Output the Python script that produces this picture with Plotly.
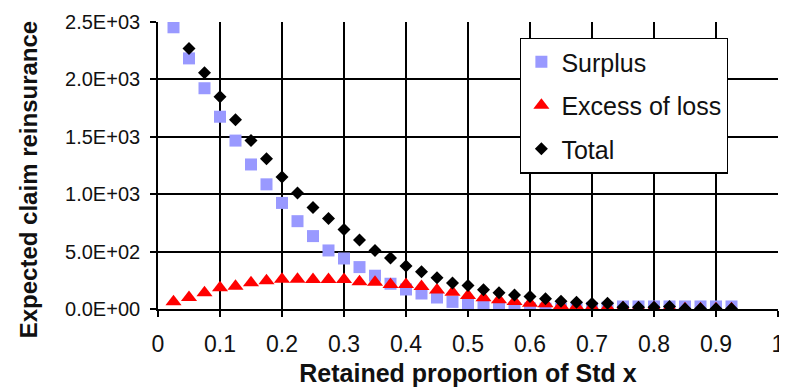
import plotly.graph_objects as go

retained = [0.025, 0.05, 0.075, 0.1, 0.125, 0.15, 0.175, 0.2, 0.225, 0.25,
            0.275, 0.3, 0.325, 0.35, 0.375, 0.4, 0.425, 0.45, 0.475, 0.5,
            0.525, 0.55, 0.575, 0.6, 0.625, 0.65, 0.675, 0.7, 0.725, 0.75,
            0.775, 0.8, 0.825, 0.85, 0.875, 0.9, 0.925]

surplus = [2454, 2183, 1923, 1675, 1467, 1259, 1086, 924, 765, 635,
           510, 440, 365, 290, 220, 170, 135, 100, 62, 45,
           30, 18, 10, 5, 3, 2, 8, 10, 12, 22,
           22, 22, 22, 22, 22, 22, 22]

excess_of_loss = [63, 101, 141, 185, 199, 228, 245, 260, 260, 258,
                  258, 258, 237, 234, 214, 214, 197, 165, 145, 117,
                  97, 80, 65, 50, 45, 30, 22, 16, 14, 10,
                  10, 10, 10, 2, 2, 2, 2]

total = [None, 2270, 2058, 1848, 1649, 1467, 1308, 1149, 1010, 884,
         788, 693, 600, 510, 445, 375, 325, 272, 226, 204,
         167, 141, 123, 109, 89, 68, 59, 48, 50, 16,
         16, 16, 22, 3, 3, 3, 3]

y_tick_values = [0, 500, 1000, 1500, 2000, 2500]
y_tick_labels = ["0.0E+00", "5.0E+02", "1.0E+03", "1.5E+03", "2.0E+03", "2.5E+03"]
x_tick_values = [0, 0.1, 0.2, 0.3, 0.4, 0.5, 0.6, 0.7, 0.8, 0.9, 1]
x_tick_labels = ["0", "0.1", "0.2", "0.3", "0.4", "0.5", "0.6", "0.7", "0.8", "0.9", "1"]

FONT = "Liberation Sans, Arial, sans-serif"

fig = go.Figure()
fig.add_trace(go.Scatter(x=retained, y=surplus, mode="markers", name="Surplus",
                         legendgroup="a",
                         marker=dict(symbol="square", size=12, color="#9999FF")))
fig.add_trace(go.Scatter(x=retained, y=excess_of_loss, mode="markers", name="Excess of loss",
                         legendgroup="b",
                         marker=dict(symbol="triangle-up", size=14, color="#FF0000")))
fig.add_trace(go.Scatter(x=retained, y=total, mode="markers", name="Total",
                         legendgroup="c",
                         marker=dict(symbol="diamond", size=10, color="#000000")))

# page body has an 8px margin, so the figure is offset by 8px; compensate
fig.update_layout(
    width=779, height=383,
    margin=dict(l=150, r=3, t=13, b=82),
    paper_bgcolor="white", plot_bgcolor="white",
    font=dict(family=FONT, color="#111111"),
    showlegend=True,
    legend=dict(x=0.584, y=0.945, xanchor="left", yanchor="top",
                bgcolor="white", bordercolor="black", borderwidth=1.3,
                font=dict(family=FONT, size=25, color="#111111"),
                tracegroupgap=8, traceorder="grouped", itemwidth=30),
    xaxis=dict(range=[0, 1], tickvals=x_tick_values, ticktext=x_tick_labels,
               showgrid=True, gridcolor="black", gridwidth=1.7,
               showline=True, linecolor="black", linewidth=1.7,
               zeroline=False, ticks="outside", ticklen=6, tickcolor="black",
               tickwidth=1.5, ticklabelstandoff=8, ticklabeloverflow="allow",
               tickfont=dict(family=FONT, size=23, color="#111111"),
               title=dict(text="<b>Retained proportion of Std x</b>",
                          font=dict(family=FONT, size=25, color="#111111"),
                          standoff=8)),
    yaxis=dict(range=[0, 2500], tickvals=y_tick_values, ticktext=y_tick_labels,
               showgrid=True, gridcolor="black", gridwidth=1.7,
               showline=True, linecolor="black", linewidth=1.7,
               zeroline=False, ticks="outside", ticklen=6, tickcolor="black",
               tickwidth=1.5, ticklabelstandoff=6,
               tickfont=dict(family=FONT, size=20, color="#111111")),
    annotations=[dict(text="<b>Expected claim reinsurance</b>", textangle=-90,
                      xref="paper", yref="paper", x=-0.209, y=0.45,
                      xanchor="center", yanchor="middle", showarrow=False,
                      font=dict(family=FONT, size=24, color="#111111"))],
)

fig.write_html("out.html")
